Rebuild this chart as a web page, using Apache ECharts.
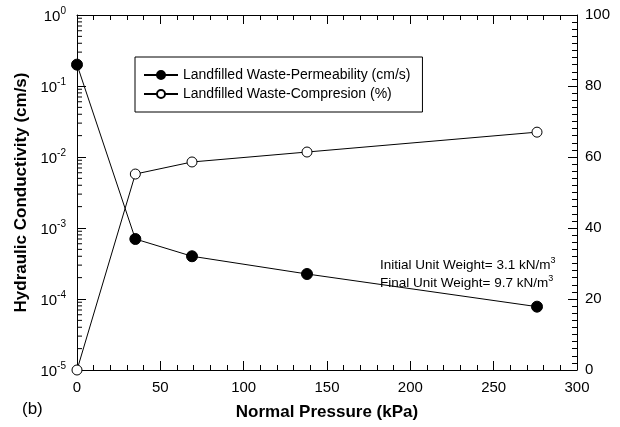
<!DOCTYPE html>
<html>
<head>
<meta charset="utf-8">
<script src="https://cdn.jsdelivr.net/npm/echarts@6/dist/echarts.min.js"></script>
<style>
  html, body { margin: 0; padding: 0; background: #fff; }
  #chart { width: 620px; height: 427px; }
</style>
</head>
<body>
<div id="chart"></div>
<script>
// Normal pressure steps (kPa)
const pressure = [0, 35, 69, 138, 276];
// Hydraulic conductivity (cm/s), log scale on the left
const permeability = [0.2, 7.0e-4, 4.0e-4, 2.25e-4, 7.8e-5];
// Compression (%), linear scale on the right
const compression = [0, 55.2, 58.6, 61.4, 67.0];
// Minor tick values for the log axis (2..9 per decade)
const logMinorTicks = [];
for (let e = -5; e < 0; e++) {
  for (let m = 2; m <= 9; m++) logMinorTicks.push(m * Math.pow(10, e));
}

const FONT = 'Liberation Sans, Arial, sans-serif';
const chart = echarts.init(document.getElementById('chart'));

const superRich = {
  b: { fontSize: 15, fontFamily: FONT, color: '#000', verticalAlign: 'bottom', lineHeight: 18 },
  s: { fontSize: 10, fontFamily: FONT, color: '#000', verticalAlign: 'top', lineHeight: 18, padding: [0, 0, 6, 0] }
};

const frameLine = { onZero: false, lineStyle: { color: '#000', width: 1 } };

chart.setOption({
  animation: false,
  backgroundColor: '#fff',
  grid: { left: 77, right: 43, top: 15, bottom: 57 },
  legend: {
    left: 135, top: 57,
    orient: 'vertical',
    itemWidth: 34, itemHeight: 10, itemGap: 5,
    padding: [11, 12, 11, 8],
    borderColor: '#000', borderWidth: 1,
    textStyle: { fontFamily: FONT, fontSize: 14, color: '#000' },
    data: ['Landfilled Waste-Permeability (cm/s)', 'Landfilled Waste-Compresion (%)']
  },
  xAxis: [
    {
      type: 'value', min: 0, max: 300, interval: 50,
      name: 'Normal Pressure (kPa)', nameLocation: 'middle', nameGap: 34,
      nameTextStyle: { fontFamily: FONT, fontSize: 17, fontWeight: 'bold', color: '#000' },
      axisLine: frameLine,
      axisTick: { inside: true, length: 9, lineStyle: { color: '#000' } },
      minorTick: { show: true, splitNumber: 5, length: 5, lineStyle: { color: '#000' } },
      axisLabel: { fontFamily: FONT, fontSize: 15, color: '#000', margin: 10 },
      splitLine: { show: false }
    },
    {
      type: 'value', min: 0, max: 300, interval: 50, position: 'top',
      axisLine: frameLine,
      axisTick: { inside: true, length: 9, lineStyle: { color: '#000' } },
      minorTick: { show: true, splitNumber: 5, length: 5, lineStyle: { color: '#000' } },
      axisLabel: { show: false },
      splitLine: { show: false }
    }
  ],
  yAxis: [
    {
      type: 'log', logBase: 10, min: 1e-5, max: 1, position: 'left',
      name: 'Hydraulic Conductivity (cm/s)', nameLocation: 'middle', nameGap: 45, nameRotate: 90,
      nameTextStyle: { fontFamily: FONT, fontSize: 17, fontWeight: 'bold', color: '#000' },
      axisLine: Object.assign({ show: true }, frameLine),
      axisTick: { inside: true, length: 9, lineStyle: { color: '#000' } },
      axisLabel: {
        margin: 11,
        formatter: v => '{b|10}{s|' + Math.round(Math.log10(v)) + '}',
        rich: superRich
      },
      splitLine: { show: false }
    },
    {
      type: 'value', min: 0, max: 100, interval: 20, position: 'right',
      axisLine: Object.assign({ show: true }, frameLine),
      axisTick: { inside: true, length: 9, lineStyle: { color: '#000' } },
      minorTick: { show: true, splitNumber: 10, length: 5, lineStyle: { color: '#000' } },
      axisLabel: { fontFamily: FONT, fontSize: 15, color: '#000', margin: 8 },
      splitLine: { show: false }
    }
  ],
  graphic: [
    {
      type: 'text', left: 380, top: 256,
      style: {
        text: 'Initial Unit Weight= 3.1 kN/m{s|3}\nFinal Unit Weight= 9.7 kN/m{s|3}',
        fontFamily: FONT, fontSize: 13.5, fill: '#000', lineHeight: 18,
        rich: { s: { fontSize: 9, fontFamily: FONT, fill: '#000', verticalAlign: 'top', padding: [0, 0, 6, 0] } }
      }
    },
    {
      type: 'text', left: 22, top: 401,
      style: { text: '(b)', fontFamily: FONT, fontSize: 17, fill: '#000' }
    }
  ],
  series: [
    {
      name: 'log-minor-ticks',
      type: 'custom',
      xAxisIndex: 0, yAxisIndex: 0,
      silent: true,
      clip: false,
      data: logMinorTicks.map(v => [0, v]),
      renderItem: (params, api) => {
        const p = api.coord([api.value(0), api.value(1)]);
        return {
          type: 'line',
          shape: { x1: p[0], y1: p[1], x2: p[0] + 5, y2: p[1] },
          style: { stroke: '#000', lineWidth: 1 }
        };
      },
      z: 1
    },
    {
      name: 'Landfilled Waste-Permeability (cm/s)',
      type: 'line',
      xAxisIndex: 0, yAxisIndex: 0,
      data: pressure.map((x, i) => [x, permeability[i]]),
      symbol: 'circle', symbolSize: 11,
      clip: false,
      lineStyle: { color: '#000', width: 1 },
      itemStyle: { color: '#000', borderColor: '#000', borderWidth: 1 },
      z: 3
    },
    {
      name: 'Landfilled Waste-Compresion (%)',
      type: 'line',
      xAxisIndex: 0, yAxisIndex: 1,
      data: pressure.map((x, i) => [x, compression[i]]),
      symbol: 'circle', symbolSize: 10,
      showAllSymbol: true,
      clip: false,
      lineStyle: { color: '#000', width: 1 },
      itemStyle: { color: '#fff', borderColor: '#000', borderWidth: 1 },
      z: 3
    }
  ]
});
</script>
</body>
</html>
